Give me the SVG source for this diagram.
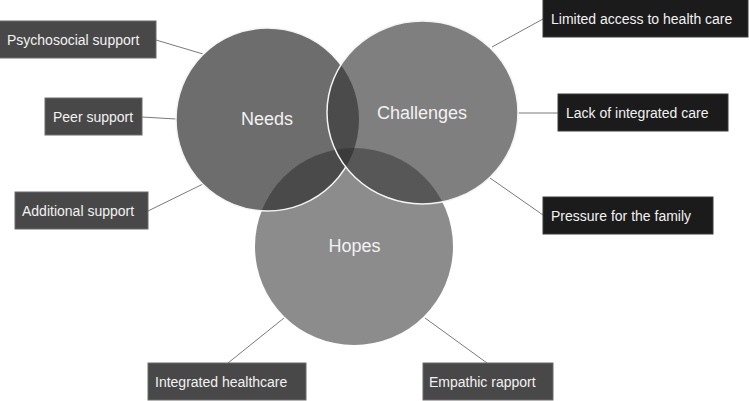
<svg xmlns="http://www.w3.org/2000/svg" width="749" height="401" viewBox="0 0 749 401">
<style>
.lbl{font-family:"Liberation Sans",Arial,sans-serif;font-size:14px;fill:#f2f2f2}
.big{font-family:"Liberation Sans",Arial,sans-serif;font-size:18px;fill:#f2f2f2;text-anchor:middle}
.bx{fill:#484848;stroke:#6a6a6a;stroke-width:1}
.bk{fill:#1b1b1b;stroke:#3a3a3a;stroke-width:1}
.cn{stroke:#7a7a7a;stroke-width:1;fill:none}
</style>
<defs>
<clipPath id="cN"><circle cx="267.5" cy="119.5" r="91.5"/></clipPath>
<clipPath id="cC"><ellipse cx="422.5" cy="112.5" rx="95.5" ry="91.5"/></clipPath>
<clipPath id="cH"><ellipse cx="354" cy="246.5" rx="99" ry="98.5"/></clipPath>
<mask id="mC"><rect x="0" y="0" width="749" height="401" fill="#fff"/><ellipse cx="422.5" cy="112.5" rx="95.5" ry="91.5" fill="#000"/></mask>
</defs>
<g id="connectors">
<line class="cn" x1="156" y1="40" x2="203" y2="54"/>
<line class="cn" x1="142" y1="117" x2="176" y2="119"/>
<line class="cn" x1="148" y1="211" x2="203" y2="184"/>
<line class="cn" x1="543" y1="19" x2="492" y2="47"/>
<line class="cn" x1="518" y1="113" x2="558" y2="113"/>
<line class="cn" x1="490" y1="178" x2="543" y2="215"/>
<line class="cn" x1="228" y1="363" x2="284" y2="318"/>
<line class="cn" x1="425" y1="318" x2="487" y2="363"/>
</g>
<g id="venn">
<ellipse id="hopes-circle" cx="354" cy="246.5" rx="99" ry="98.5" fill="#8c8c8c"/>
<circle id="needs-circle" cx="267.5" cy="119.5" r="91.5" fill="#6d6d6d"/>
<ellipse id="challenges-circle" cx="422.5" cy="112.5" rx="95.5" ry="91.5" fill="#7f7f7f"/>
<g clip-path="url(#cN)"><ellipse cx="354" cy="246.5" rx="99" ry="98.5" fill="#4a4a4a"/></g>
<g clip-path="url(#cC)"><ellipse cx="354" cy="246.5" rx="99" ry="98.5" fill="#575757"/></g>
<g clip-path="url(#cC)"><circle cx="267.5" cy="119.5" r="91.5" fill="#4b4b4b"/></g>
<g clip-path="url(#cH)"><g clip-path="url(#cC)"><circle cx="267.5" cy="119.5" r="91.5" fill="#3b3b3b"/></g></g>
<circle cx="267.5" cy="119.5" r="91.5" fill="none" stroke="#f4f4f4" stroke-width="1.5" mask="url(#mC)"/>
<ellipse cx="422.5" cy="112.5" rx="95.5" ry="91.5" fill="none" stroke="#f4f4f4" stroke-width="1.5"/>
</g>
<g id="needs"><text class="big" x="267" y="125">Needs</text></g>
<g id="challenges"><text class="big" x="422" y="119">Challenges</text></g>
<g id="hopes"><text class="big" x="354.5" y="252">Hopes</text></g>
<g id="psychosocial-support"><rect class="bx" x="-1" y="21" width="157" height="37"/><text class="lbl" x="7" y="44.5">Psychosocial support</text></g>
<g id="peer-support"><rect class="bx" x="45" y="98" width="97" height="37"/><text class="lbl" x="53" y="121.5">Peer support</text></g>
<g id="additional-support"><rect class="bx" x="15" y="192" width="133" height="37"/><text class="lbl" x="22" y="215.5">Additional support</text></g>
<g id="limited-access"><rect class="bk" x="543" y="-1" width="205" height="38"/><text class="lbl" x="551" y="24">Limited access to health care</text></g>
<g id="lack-integrated"><rect class="bk" x="558" y="94" width="170" height="37"/><text class="lbl" x="566" y="117.5">Lack of integrated care</text></g>
<g id="pressure-family"><rect class="bk" x="543" y="197" width="170" height="37"/><text class="lbl" x="551" y="220.5">Pressure for the family</text></g>
<g id="integrated-healthcare"><rect class="bx" x="148" y="363" width="158" height="37"/><text class="lbl" x="155" y="386.5">Integrated healthcare</text></g>
<g id="empathic-rapport"><rect class="bx" x="423" y="363" width="130" height="37"/><text class="lbl" x="429" y="386.5">Empathic rapport</text></g>
</svg>
